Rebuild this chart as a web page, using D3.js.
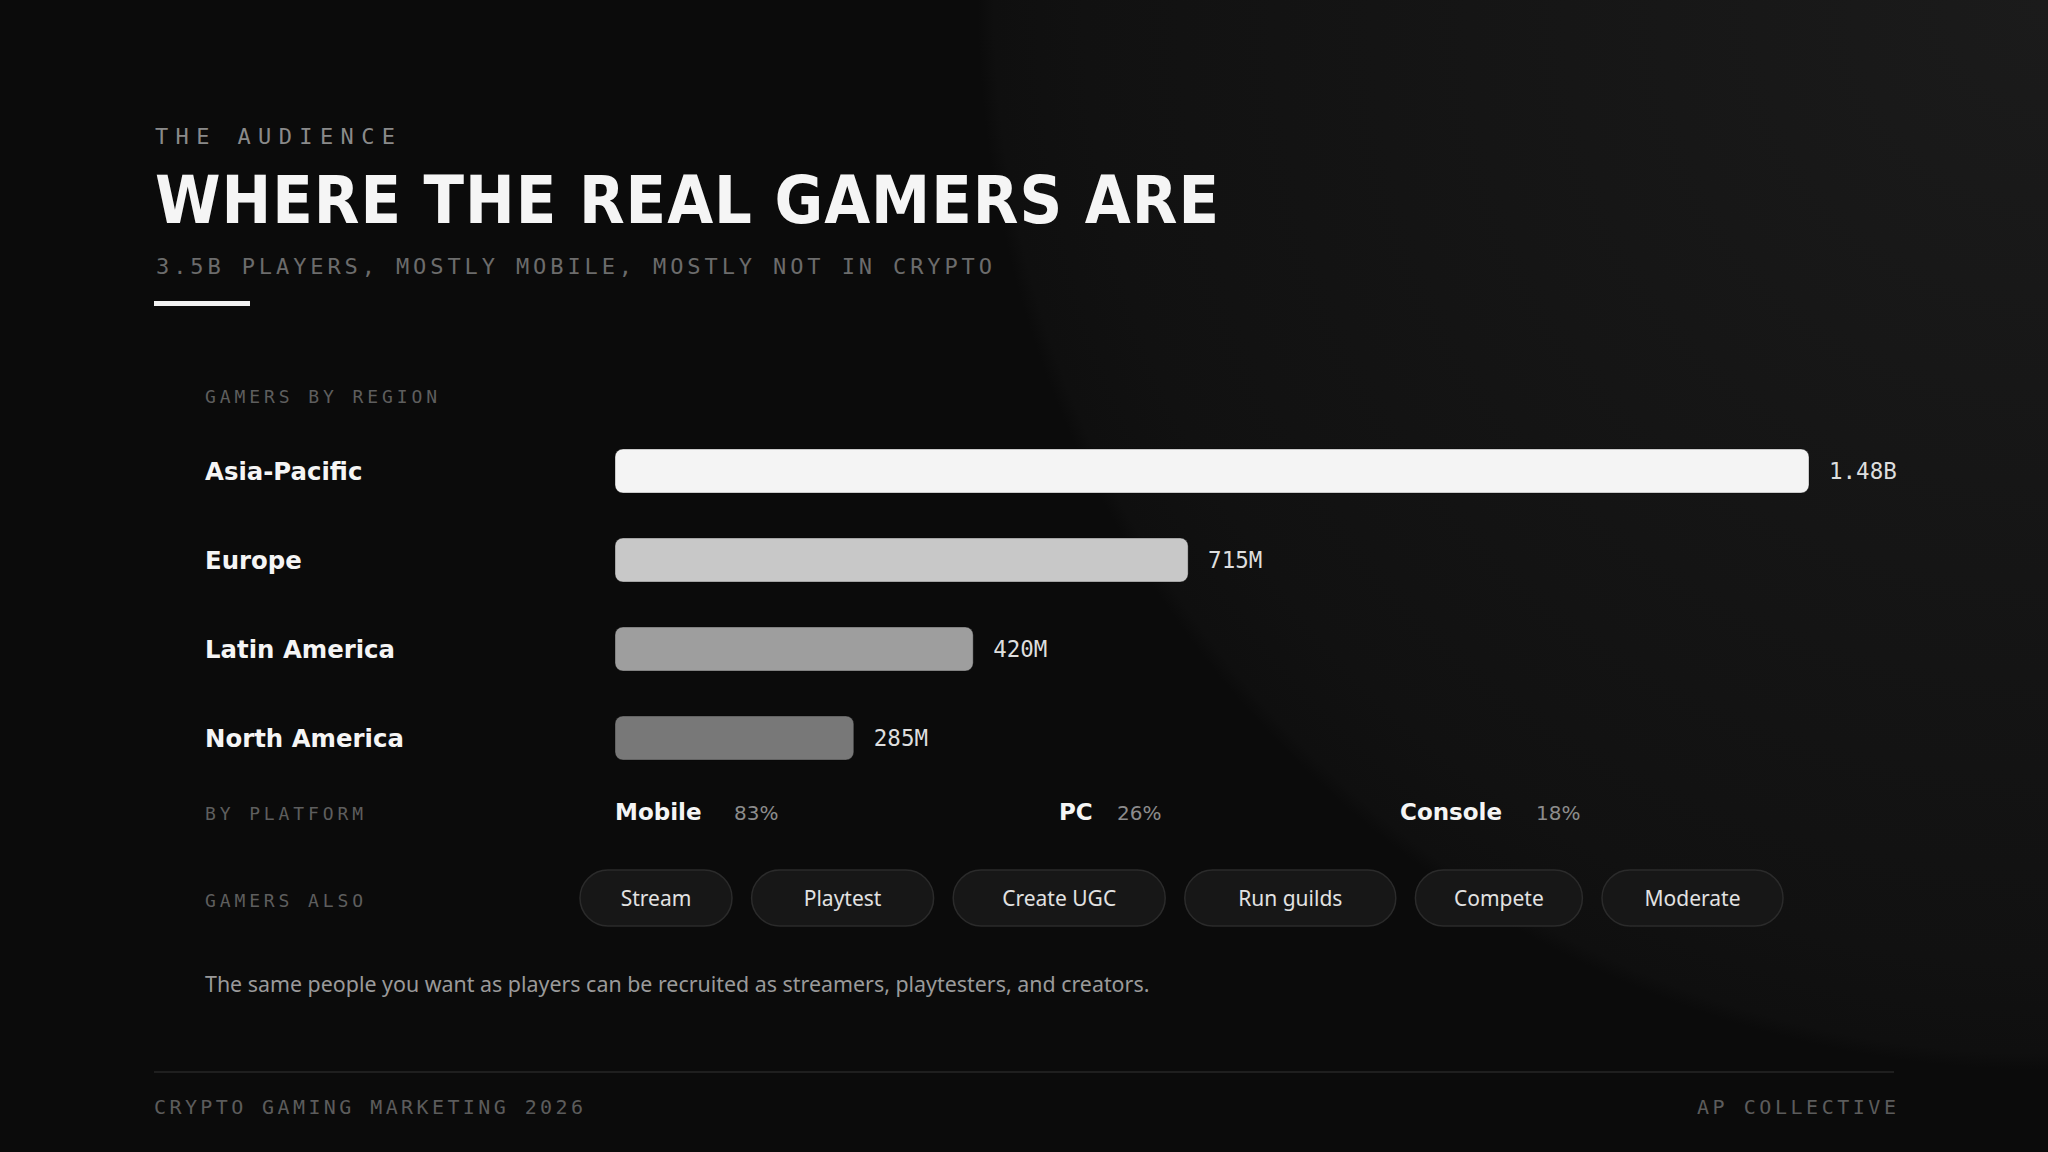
<!DOCTYPE html>
<html>
<head>
<meta charset="utf-8">
<script src="https://cdn.jsdelivr.net/npm/d3@7"></script>
<style>
  html, body { margin: 0; padding: 0; background: #0b0b0b; }
  svg { display: block; }
</style>
</head>
<body>
<svg id="chart" width="2048" height="1152"></svg>
<script>
// ---- data ----
const eyebrow = "THE AUDIENCE";
const title = "WHERE THE REAL GAMERS ARE";
const subtitle = "3.5B PLAYERS, MOSTLY MOBILE, MOSTLY NOT IN CRYPTO";
const regionSectionLabel = "GAMERS BY REGION";
const regions = ["Asia-Pacific", "Europe", "Latin America", "North America"];
const regionValues = [1480, 715, 420, 285];            // millions of gamers
const regionValueLabels = ["1.48B", "715M", "420M", "285M"];
const regionBarShare = [100, 48, 30, 20];               // drawn bar length, % of longest
const platformSectionLabel = "BY PLATFORM";
const platforms = ["Mobile", "PC", "Console"];
const platformShares = [83, 26, 18];
const activitiesLabel = "GAMERS ALSO";
const activities = ["Stream", "Playtest", "Create UGC", "Run guilds", "Compete", "Moderate"];
const note = "The same people you want as players can be recruited as streamers, playtesters, and creators.";
const footerLeft = "CRYPTO GAMING MARKETING 2026";
const footerRight = "AP COLLECTIVE";

// ---- styling / layout ----
const MONO = "'DejaVu Sans Mono', monospace";
const SANS = "'DejaVu Sans', sans-serif";
const COND = "'DejaVu Sans Condensed', 'DejaVu Sans', sans-serif";
const NOTO = "'Noto Sans', sans-serif";
const barColors = ["#f4f4f4", "#c8c8c8", "#9e9e9e", "#787878"];
const pillWidths = [152, 182, 212, 211, 167, 181];
const platformNameX = [615, 1059, 1400];
const platformPctX = [734, 1117, 1536];

const svg = d3.select("#chart");
const W = 2048, H = 1152;

// background
const defs = svg.append("defs");
const rg = defs.append("radialGradient").attr("id", "bgGlow")
  .attr("gradientUnits", "userSpaceOnUse")
  .attr("cx", 2048).attr("cy", 0).attr("r", 1070);
rg.append("stop").attr("offset", 0).attr("stop-color", "#1b1b1b");
rg.append("stop").attr("offset", 0.45).attr("stop-color", "#161616");
rg.append("stop").attr("offset", 0.9).attr("stop-color", "#111111");
rg.append("stop").attr("offset", 0.985).attr("stop-color", "#0f0f0f");
rg.append("stop").attr("offset", 1).attr("stop-color", "#0b0b0b");
svg.append("rect").attr("width", W).attr("height", H).attr("fill", "#0b0b0b");
svg.append("rect").attr("width", W).attr("height", H).attr("fill", "url(#bgGlow)");

// header
svg.append("text").text(eyebrow)
  .attr("x", 155).attr("y", 144)
  .attr("font-family", MONO).attr("font-size", 22)
  .attr("fill", "#8a8a8a")
  .attr("textLength", 240).attr("lengthAdjust", "spacing");

svg.append("text").text(title)
  .attr("x", 155).attr("y", 223)
  .attr("font-family", COND).attr("font-stretch", "semi-condensed")
  .attr("font-weight", "bold").attr("font-size", 66)
  .attr("fill", "#f5f5f5")
  .attr("textLength", 1064).attr("lengthAdjust", "spacing");

svg.append("text").text(subtitle)
  .attr("x", 156).attr("y", 274)
  .attr("font-family", MONO).attr("font-size", 22)
  .attr("fill", "#6c6c6c")
  .attr("textLength", 836).attr("lengthAdjust", "spacing");

svg.append("rect").attr("x", 154).attr("y", 301).attr("width", 96).attr("height", 5)
  .attr("fill", "#f2f2f2");

// section: regions
const labelX = 205;
svg.append("text").text(regionSectionLabel)
  .attr("x", labelX).attr("y", 403)
  .attr("font-family", MONO).attr("font-size", 18)
  .attr("fill", "#5e5e5e")
  .attr("textLength", 232).attr("lengthAdjust", "spacing");

const y = d3.scalePoint().domain(regions).range([471, 738]);
const x = d3.scaleLinear().domain([0, 100]).range([615, 1809]);
const barH = 44;

const rows = svg.append("g").selectAll("g").data(regions).join("g");

rows.append("text").text(d => d)
  .attr("x", labelX).attr("y", d => y(d)).attr("dy", "0.36em")
  .attr("font-family", SANS).attr("font-weight", "bold").attr("font-size", 24.4)
  .attr("fill", "#f5f5f5");

rows.append("rect")
  .attr("x", x(0)).attr("y", d => y(d) - barH / 2)
  .attr("width", (d, i) => x(regionBarShare[i]) - x(0))
  .attr("height", barH).attr("rx", 8).attr("ry", 8)
  .attr("fill", (d, i) => barColors[i])
  .attr("stroke", "rgba(0,0,0,0.35)").attr("stroke-width", 1);

rows.append("text").text((d, i) => regionValueLabels[i])
  .attr("x", (d, i) => x(regionBarShare[i]) + 20).attr("y", d => y(d)).attr("dy", "0.36em")
  .attr("font-family", MONO).attr("font-size", 22.5)
  .attr("fill", "#dedede");

// section: platforms
svg.append("text").text(platformSectionLabel)
  .attr("x", labelX).attr("y", 820)
  .attr("font-family", MONO).attr("font-size", 18)
  .attr("fill", "#5e5e5e")
  .attr("textLength", 158).attr("lengthAdjust", "spacing");

const pg = svg.append("g").selectAll("g").data(platforms).join("g");
pg.append("text").text(d => d)
  .attr("x", (d, i) => platformNameX[i]).attr("y", 820)
  .attr("font-family", SANS).attr("font-weight", "bold").attr("font-size", 23)
  .attr("fill", "#f5f5f5");
pg.append("text").text((d, i) => platformShares[i] + "%")
  .attr("x", (d, i) => platformPctX[i]).attr("y", 820)
  .attr("font-family", SANS).attr("font-size", 20)
  .attr("fill", "#8c8c8c");

// section: activities
svg.append("text").text(activitiesLabel)
  .attr("x", labelX).attr("y", 907)
  .attr("font-family", MONO).attr("font-size", 18)
  .attr("fill", "#5e5e5e")
  .attr("textLength", 158).attr("lengthAdjust", "spacing");

const pillY = 870, pillH = 56, pillGap = 19.6;
let px = 580;
const pills = svg.append("g").selectAll("g").data(activities).join("g");
pills.each(function (a, i) {
  const g = d3.select(this);
  const w = pillWidths[i];
  g.append("rect")
    .attr("x", px).attr("y", pillY).attr("width", w).attr("height", pillH)
    .attr("rx", pillH / 2).attr("ry", pillH / 2)
    .attr("fill", "#171717").attr("stroke", "#2b2b2b").attr("stroke-width", 1.5);
  g.append("text").text(a)
    .attr("x", px + w / 2).attr("y", pillY + pillH / 2).attr("dy", "0.36em")
    .attr("font-family", NOTO).attr("font-size", 21)
    .attr("fill", "#e2e2e2").attr("text-anchor", "middle");
  px += w + pillGap;
});

// note
svg.append("text").text(note)
  .attr("x", labelX).attr("y", 992)
  .attr("font-family", NOTO).attr("font-size", 21.4)
  .attr("fill", "#9a9a9a");

// footer
svg.append("line").attr("x1", 154).attr("x2", 1894).attr("y1", 1072).attr("y2", 1072)
  .attr("stroke", "#1f1f1f").attr("stroke-width", 2);
svg.append("text").text(footerLeft)
  .attr("x", 154).attr("y", 1114)
  .attr("font-family", MONO).attr("font-size", 20)
  .attr("fill", "#5c5c5c")
  .attr("textLength", 429).attr("lengthAdjust", "spacing");
svg.append("text").text(footerRight)
  .attr("x", 1896).attr("y", 1114).attr("text-anchor", "end")
  .attr("font-family", MONO).attr("font-size", 20)
  .attr("fill", "#5c5c5c")
  .attr("textLength", 199).attr("lengthAdjust", "spacing");
</script>
</body>
</html>
